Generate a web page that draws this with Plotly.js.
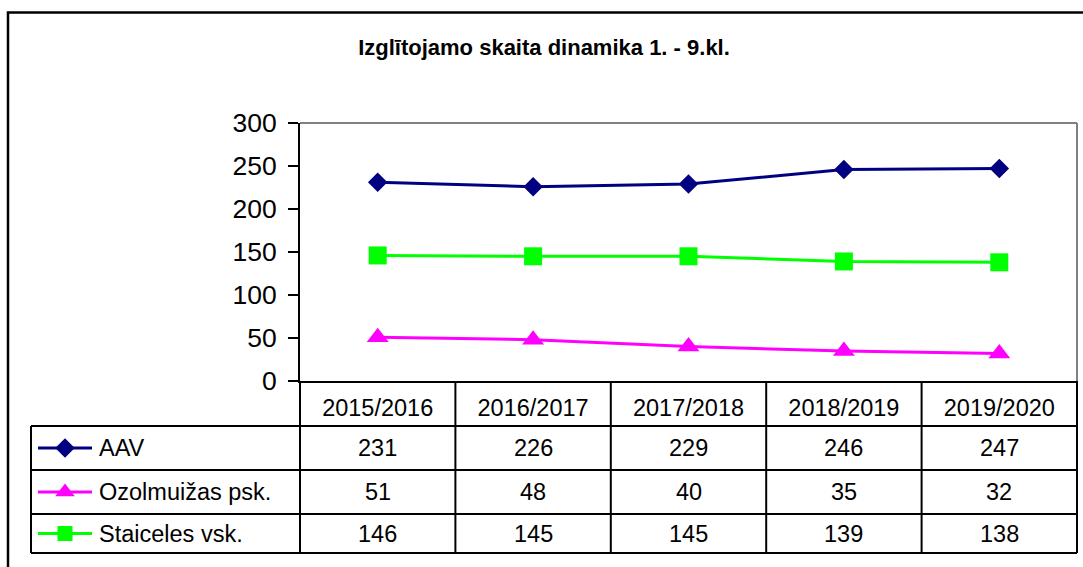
<!DOCTYPE html>
<html>
<head>
<meta charset="utf-8">
<script src="https://cdn.plot.ly/plotly-3.0.1.min.js"></script>
<style>html,body{margin:0;padding:0;background:#fff}#chart{width:1083px;height:567px}</style>
</head>
<body>
<div id="chart"></div>
<script>
// ---- data ----
const categories = ['2015/2016', '2016/2017', '2017/2018', '2018/2019', '2019/2020'];
const seriesNames = ['AAV', 'Ozolmuižas psk.', 'Staiceles vsk.'];
const aav = [231, 226, 229, 246, 247];
const ozolmuizas = [51, 48, 40, 35, 32];
const staiceles = [146, 145, 145, 139, 138];
const chartTitle = 'Izglītojamo skaita dinamika 1. - 9.kl.';

// ---- geometry (pixels) ----
const W = 1083, H = 567;
const px = x => x / W;
const py = y => 1 - y / H;
const plotL = 300, plotR = 1077, plotT = 123, plotB = 381;
const tableL = 31, headerB = 426;
const rowEdges = [426, 470, 514, 553];
const FONT = 'Arial, "Liberation Sans", sans-serif';
const TABLE_FONT = 23.5;

const seriesValues = [aav, ozolmuizas, staiceles];
const colors = ['#000080', '#FF00FF', '#00FF00'];
const symbols = ['diamond', 'triangle-up', 'square'];
const plotSizes = [15, 19, 18];
const legendSizes = [15, 17, 15];

const traces = [];
seriesValues.forEach((vals, i) => {
  traces.push({
    type: 'scatter', mode: 'lines+markers', name: seriesNames[i],
    x: categories, y: vals, xaxis: 'x', yaxis: 'y',
    line: {color: colors[i], width: 3},
    marker: {symbol: symbols[i], size: plotSizes[i], color: colors[i]},
    showlegend: false, hoverinfo: 'skip'
  });
});

// legend keys inside the data table (pixel-space helper axes)
const annotations = [];
const shapes = [];
seriesNames.forEach((nm, i) => {
  const cy = (rowEdges[i] + rowEdges[i + 1]) / 2;
  traces.push({
    type: 'scatter', mode: 'lines', x: [38, 92], y: [cy, cy], xaxis: 'x2', yaxis: 'y2',
    line: {color: colors[i], width: 3}, showlegend: false, hoverinfo: 'skip'
  });
  traces.push({
    type: 'scatter', mode: 'markers', x: [65], y: [cy], xaxis: 'x2', yaxis: 'y2',
    marker: {symbol: symbols[i], size: legendSizes[i], color: colors[i]},
    showlegend: false, hoverinfo: 'skip'
  });
  annotations.push({
    xref: 'paper', yref: 'paper', x: px(97), y: py(cy), xanchor: 'left', yanchor: 'middle',
    text: nm, showarrow: false, font: {family: FONT, size: TABLE_FONT, color: '#000'}
  });
  seriesValues[i].forEach((v, j) => {
    annotations.push({
      xref: 'x', yref: 'paper', x: categories[j], y: py(cy), xanchor: 'center', yanchor: 'middle',
      text: String(v), showarrow: false, font: {family: FONT, size: TABLE_FONT, color: '#000'}
    });
  });
});

const line = (x0, y0, x1, y1, color, w) => ({
  type: 'line', xref: 'paper', yref: 'paper',
  x0: px(x0), y0: py(y0), x1: px(x1), y1: py(y1),
  line: {color: color, width: w}
});

// outer chart border
shapes.push({type: 'rect', xref: 'paper', yref: 'paper', x0: px(8), y0: py(620), x1: px(1120), y1: py(12.5),
  line: {color: '#000', width: 2.5}, fillcolor: 'rgba(0,0,0,0)'});
// plot area border (grey top & right)
shapes.push(line(plotL, plotT, plotR, plotT, '#808080', 2));
shapes.push(line(plotR, plotT, plotR, plotB, '#808080', 2));
// table: column separators
const colW = (plotR - plotL) / categories.length;
for (let k = 0; k <= categories.length; k++) {
  const x = plotL + k * colW;
  shapes.push(line(x, plotB, x, rowEdges[3], '#000', 2));
}
// header bottom & row separators
shapes.push(line(tableL, headerB, plotR, headerB, '#000', 2));
shapes.push(line(tableL, rowEdges[1], plotR, rowEdges[1], '#000', 2));
shapes.push(line(tableL, rowEdges[2], plotR, rowEdges[2], '#000', 2));
shapes.push(line(tableL, rowEdges[3], plotR, rowEdges[3], '#000', 2));
shapes.push(line(tableL, headerB, tableL, rowEdges[3], '#000', 2));

const layout = {
  width: W, height: H,
  margin: {l: 0, r: 0, t: 0, b: 0, pad: 0},
  paper_bgcolor: '#fff', plot_bgcolor: 'rgba(0,0,0,0)',
  showlegend: false,
  font: {family: FONT, color: '#000'},
  title: {
    text: '<b>' + chartTitle + '</b>', xref: 'container', yref: 'container',
    x: px(544), y: py(47), xanchor: 'center', yanchor: 'middle',
    font: {family: FONT, size: 22, color: '#000'}
  },
  xaxis: {
    domain: [px(plotL), px(plotR)], anchor: 'y', type: 'category', range: [-0.5, 4.5],
    showline: true, linecolor: '#000', linewidth: 2, ticks: '', showgrid: false, zeroline: false,
    tickfont: {family: FONT, size: TABLE_FONT, color: '#000'}, ticklabelstandoff: 5, fixedrange: true
  },
  yaxis: {
    domain: [py(plotB), py(plotT)], anchor: 'x', range: [0, 300], dtick: 50, tick0: 0,
    showline: true, linecolor: '#000', linewidth: 2, ticks: 'outside', ticklen: 10, tickwidth: 1.5,
    tickcolor: '#000', showgrid: false, zeroline: false,
    tickfont: {family: FONT, size: 26.5, color: '#000'}, ticklabelstandoff: 6, fixedrange: true
  },
  xaxis2: {domain: [0, 1], anchor: 'y2', range: [0, W], visible: false, fixedrange: true},
  yaxis2: {domain: [0, 1], anchor: 'x2', range: [H, 0], visible: false, fixedrange: true},
  shapes: shapes,
  annotations: annotations
};

Plotly.newPlot('chart', traces, layout, {displayModeBar: false, staticPlot: true});
</script>
</body>
</html>
